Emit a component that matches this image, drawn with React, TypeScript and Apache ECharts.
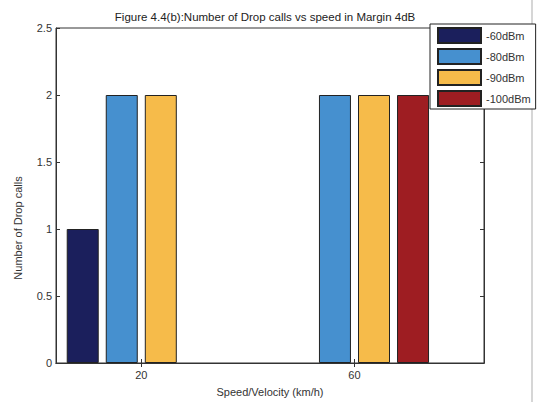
import React, { useEffect, useRef } from "react";
import * as echarts from "echarts";

const categories = [20, 60];
const tickLabels = ["20", "60"];
const seriesNames = ["-60dBm", "-80dBm", "-90dBm", "-100dBm"];
const values60 = [1, null];
const values80 = [2, 2];
const values90 = [2, 2];
const values100 = [null, 2];
const seriesValues = [values60, values80, values90, values100];
const colors = ["#1b1f5c", "#4690cf", "#f6bb4a", "#9e1d22"];
const yTicks = [0, 0.5, 1, 1.5, 2, 2.5];

const FONT = "Liberation Sans, Arial, sans-serif";

export default function App() {
  const ref = useRef<HTMLDivElement>(null);
  useEffect(() => {
    if (!ref.current) return;
    const chart = echarts.init(ref.current, null, { renderer: "svg" });
    const series = seriesNames.map((name, s) => ({
      name,
      type: "bar",
      xAxisIndex: 0,
      yAxisIndex: 0,
      barWidth: 32,
      barGap: "22%",
      itemStyle: { color: colors[s], borderColor: "#222", borderWidth: 1 },
      data: categories
        .map((c, i) => (seriesValues[s][i] == null ? null : [c, seriesValues[s][i]]))
        .filter((d) => d !== null),
    }));
    chart.setOption({
      animation: false,
      backgroundColor: "#ffffff",
      title: {
        text: "Figure 4.4(b):Number of Drop calls vs speed in Margin 4dB",
        left: 260,
        textAlign: "center",
        top: 6,
        textStyle: { fontFamily: FONT, fontSize: 11.5, fontWeight: "normal", color: "#222" },
      },
      legend: {
        orient: "vertical",
        left: 430,
        top: 24,
        itemWidth: 43,
        itemHeight: 15,
        itemGap: 4,
        padding: [3, 5, 2, 7],
        borderColor: "#222",
        borderWidth: 1,
        backgroundColor: "#fff",
        icon: "rect",
        textStyle: { fontFamily: FONT, fontSize: 11, color: "#333" },
        data: seriesNames,
      },
      grid: {
        left: 56,
        top: 28,
        width: 428,
        height: 336,
        show: true,
        borderColor: "#333",
        borderWidth: 1,
        backgroundColor: "transparent",
      },
      xAxis: [
        {
          type: "value",
          min: 4,
          max: 84.3,
          position: "bottom",
          name: "Speed/Velocity (km/h)",
          nameLocation: "middle",
          nameGap: 23,
          nameTextStyle: { fontFamily: FONT, fontSize: 11, color: "#333" },
          axisLine: { show: true, lineStyle: { color: "#333" } },
          axisTick: { show: true, inside: true, length: 4, customValues: categories, lineStyle: { color: "#333" } },
          axisLabel: {
            customValues: categories,
            margin: 6,
            fontFamily: FONT,
            fontSize: 11,
            color: "#333",
            formatter: (v: number) => tickLabels[categories.indexOf(v)] ?? "",
          },
          splitLine: { show: false },
        },
        {
          type: "value",
          min: 4,
          max: 84.3,
          position: "top",
          axisLine: { show: true, lineStyle: { color: "#333" } },
          axisTick: { show: true, inside: true, length: 4, customValues: categories, lineStyle: { color: "#333" } },
          axisLabel: { show: false },
          splitLine: { show: false },
        },
      ],
      yAxis: [
        {
          type: "value",
          min: 0,
          max: 2.5,
          interval: 0.5,
          position: "left",
          axisLine: { show: true, lineStyle: { color: "#333" } },
          axisTick: { show: true, inside: true, length: 4, lineStyle: { color: "#333" } },
          axisLabel: {
            margin: 4,
            fontFamily: FONT,
            fontSize: 11,
            color: "#333",
            formatter: (v: number) => (yTicks.includes(v) ? String(v) : ""),
          },
          splitLine: { show: false },
        },
        {
          type: "value",
          min: 0,
          max: 2.5,
          interval: 0.5,
          position: "right",
          axisLine: { show: true, lineStyle: { color: "#333" } },
          axisTick: { show: true, inside: true, length: 4, lineStyle: { color: "#333" } },
          axisLabel: { show: false },
          splitLine: { show: false },
        },
      ],
      graphic: [
        {
          type: "text",
          x: 18,
          y: 228,
          rotation: Math.PI / 2,
          style: {
            text: "Number of Drop calls",
            fontFamily: FONT,
            fontSize: 11,
            fill: "#333",
            align: "center",
            verticalAlign: "middle",
          },
        },
        {
          type: "line",
          z: -10,
          shape: { x1: 532, y1: 0, x2: 532, y2: 402 },
          style: { stroke: "#c8c8c8", lineWidth: 1.5 },
        },
      ],
      series,
    });
    return () => chart.dispose();
  }, []);
  return (
    <div
      ref={ref}
      style={{ position: "fixed", left: 0, top: 0, width: 540, height: 402 }}
    />
  );
}
